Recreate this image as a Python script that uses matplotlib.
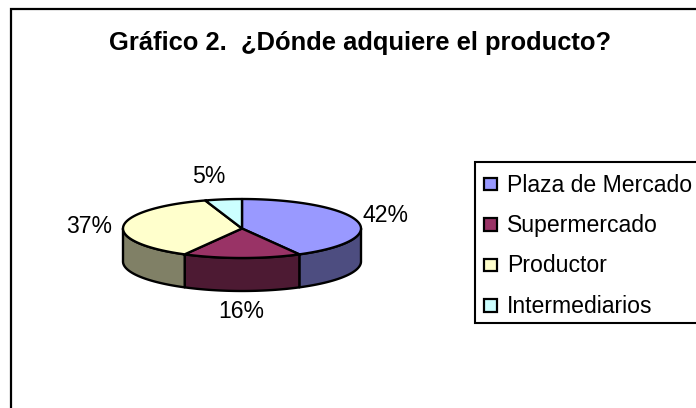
import numpy as np
import matplotlib
matplotlib.use("Agg")
import matplotlib.pyplot as plt
from matplotlib.patches import Polygon, Rectangle

plt.rcParams['font.family'] = ['Liberation Sans', 'DejaVu Sans']

title = "Gráfico 2.  ¿Dónde adquiere el producto?"
categories = ["Plaza de Mercado", "Supermercado", "Productor", "Intermediarios"]
values = [42, 16, 37, 5]
top_colors = ["#9999FF", "#993366", "#FFFFCC", "#CCFFFF"]
side_colors = ["#4D4D80", "#4D1A33", "#808066", "#668080"]
label_pos = [(385.5, 222), (241, 318), (89.5, 233), (209, 183)]

W, H = 696, 408
fig = plt.figure(figsize=(W / 100, H / 100), dpi=100)
ax = fig.add_axes([0, 0, 1, 1])
ax.set_xlim(0, W)
ax.set_ylim(H, 0)
ax.axis('off')

# chart frame (runs off the right and bottom of the picture)
ax.add_patch(Rectangle((11, 9), 800, 600, fc='white', ec='black', lw=1.6, zorder=0))
ax.text(360, 50, title, ha='center', va='baseline', fontsize=18.4, fontweight='bold')

cx, cy, rx, ry, depth = 242, 228.5, 119, 29.5, 33


def pt(t):
    return cx + rx * np.sin(t), cy - ry * np.cos(t)


fr = np.cumsum([0] + values) / sum(values) * 2 * np.pi
edge = dict(edgecolor='black', linewidth=1.7, joinstyle='round')

# side walls: only the front half (pi/2 .. 3pi/2) is visible
for i in range(len(values)):
    a, b = max(fr[i], np.pi / 2), min(fr[i + 1], 3 * np.pi / 2)
    if b <= a:
        continue
    t = np.linspace(a, b, 80)
    x, y = pt(t)
    verts = np.r_[np.c_[x, y], np.c_[x[::-1], y[::-1] + depth]]
    ax.add_patch(Polygon(verts, closed=True, facecolor=side_colors[i], zorder=2, **edge))

# top face
for i in range(len(values)):
    t = np.linspace(fr[i], fr[i + 1], 120)
    x, y = pt(t)
    verts = np.r_[[[cx, cy]], np.c_[x, y]]
    ax.add_patch(Polygon(verts, closed=True, facecolor=top_colors[i], zorder=3, **edge))

for v, (lx, ly) in zip(values, label_pos):
    ax.text(lx, ly, f"{v}%", ha='center', va='baseline', fontsize=16.6)

# legend
ax.add_patch(Rectangle((475, 162), 400, 161, fc='white', ec='black', lw=1.5, zorder=1))
leg_y = [183.5, 224, 264.5, 305]
leg_base = [192, 232, 272, 313]
for name, col, y, by in zip(categories, top_colors, leg_y, leg_base):
    ax.add_patch(Rectangle((484, y - 6), 12.5, 12.5, fc=col, ec='black', lw=1.6, zorder=3))
    ax.text(507, by, name, ha='left', va='baseline', fontsize=16.6)

fig.savefig("out.png", dpi=100)
